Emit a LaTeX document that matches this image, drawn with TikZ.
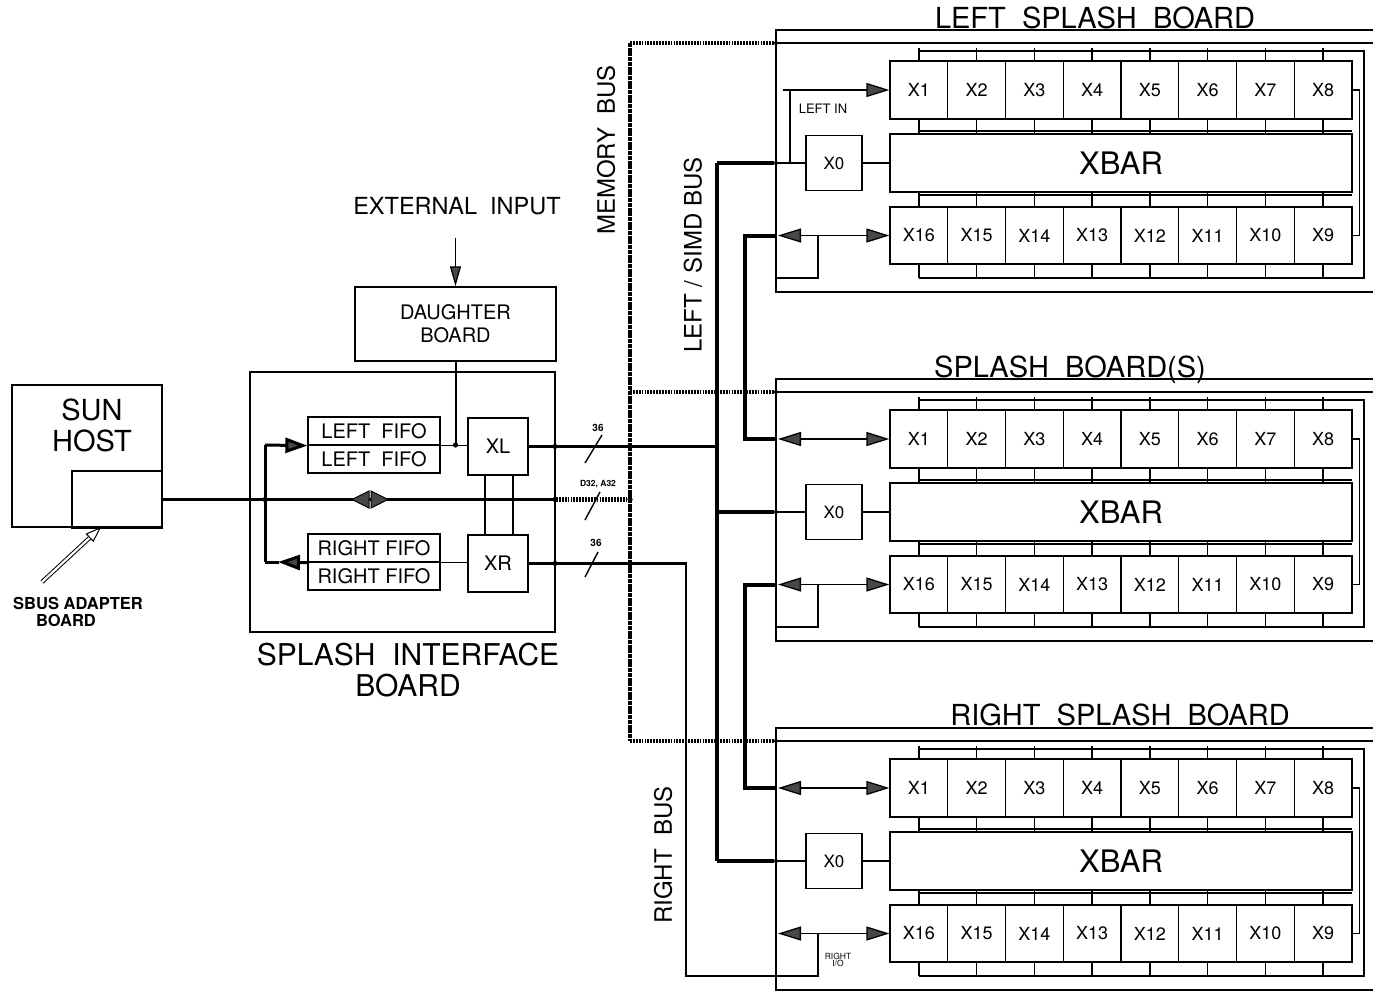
\documentclass[tikz,border=0pt]{standalone}
\usepackage{fontspec}
\setmainfont{TeX Gyre Heros}
\usetikzlibrary{arrows.meta,calc}
\newcommand\fs[1]{\fontsize{#1}{#1}\selectfont}
\tikzset{
  ln/.style={line width=1.3pt},
  frame/.style={line width=1.6pt},
  box/.style={draw, line width=1.4pt, inner sep=0pt},
  chip/.style={draw, line width=1.3pt, inner sep=0pt, minimum width=57.75pt, font=\fs{18}},
  fifo/.style={draw, line width=1.3pt, inner sep=0pt, minimum width=132pt, minimum height=28pt, font=\fs{20}},
  bus/.style={line width=4pt},
  membush/.style={line width=4.5pt, dash pattern=on 1.8pt off 1.1pt},
  membusv/.style={line width=3.5pt, dash pattern=on 4pt off 0.7pt},
  >={Triangle[length=23pt,width=14pt,fill=black!72]},
  dot/.style={circle, fill, inner sep=0pt, minimum size=5pt},
  title/.style={font=\fs{29}, anchor=base},
  vlabel/.style={font=\fs{24}, rotate=90},
}
% #1 = top y of board frame, #2 = name prefix
\newcommand\sboard[2]{%
  \draw[frame] (1380,#1) -- (776,#1) -- (776,#1+262) -- (1380,#1+262);
  \draw[ln] (776,#1+13) -- (1380,#1+13);
  \node[chip, minimum width=462pt, minimum height=58pt, font=\fs{31}] (#2xbar) at (1121,#1+133) {XBAR};
  \node[chip, minimum width=56pt, minimum height=55pt, font=\fs{17}] (#2x0) at (834,#1+133) {X0};
  \foreach \i in {1,...,8}{%
    \pgfmathsetmacro\cx{890+(\i-0.5)*57.75}%
    \pgfmathtruncatemacro\j{17-\i}%
    \node[chip, minimum height=58pt] (#2x\i) at (\cx,#1+60) {X\i};
    \node[chip, minimum height=57pt] (#2x\j) at (\cx,#1+205.5) {X\j};
    \draw[ln] (\cx,#1+18) -- (#2x\i.north);
    \draw[ln] (#2x\i.south) -- (\cx,#1+104);
    \draw[ln] (\cx,#1+162) -- (#2x\j.north);
    \draw[ln] (#2x\j.south) -- (\cx,#1+248);
  }
  \draw[ln] (918.9,#1+21) -- (1364,#1+21) -- (1364,#1+248) -- (918.9,#1+248);
  \draw[ln] (918.9,#1+101) -- (1352,#1+101);
  \draw[ln] (918.9,#1+165) -- (1352,#1+165);
  \draw[ln] (#2x8.east) -- ++(7,0) |- (#2x9.east);
  \draw[ln] (#2x0.east) -- (#2xbar.west);
  \draw[ln] (776,#1+133) -- (#2x0.west);
  \draw[ln,<->] (778,#1+205.5) -- (#2x16.west);
  \draw[ln] (818,#1+205.5) -- (818,#1+248) -- (776,#1+248);
  \node[dot, minimum size=4pt] (#2d1) at (776,#1+13) {};
  \node[dot, minimum size=4pt] (#2d2) at (776,#1+133) {};
}
\begin{document}
\begin{tikzpicture}[x=1pt,y=-1pt]
\useasboundingbox (0,0) rectangle (1373,1002);

% ---------- SUN host ----------
\node[box, line width=1.8pt, minimum width=150pt, minimum height=142pt] (host) at (87,456) {};
\node[font=\fs{29}] (sun) at (92,410) {SUN};
\node[font=\fs{29}] (hostlbl) at (92,441) {HOST};
\node[box, line width=1.8pt, minimum width=90pt, minimum height=57pt] (adapter) at (117,499.5) {};
\node[font=\bfseries\fs{16.5}] (sbus1) at (78,603) {SBUS ADAPTER};
\node[font=\bfseries\fs{16.5}] (sbus2) at (66,620) {BOARD};
\coordinate (sbtail) at (42,582);
\coordinate (sbtip) at (100,528);
\draw[double, double distance=2.2pt, line width=1pt] (sbtail) -- (89.85,537.6);
\draw[line width=1pt, fill=white] (sbtip) -- (93.3,541.2) -- (86.4,534.0) -- cycle;

% ---------- interface board ----------
\node[box, line width=2pt, minimum width=305pt, minimum height=260pt] (ifb) at (402.5,502) {};
\node[box, minimum width=201pt, minimum height=74pt, align=center, font=\fontsize{20}{23}\selectfont] (daughter) at (455.5,324) {DAUGHTER\\BOARD};
\node[font=\fs{23.5}] (extin) at (457,206) {EXTERNAL\ \ INPUT};
\coordinate (extsrc) at (455.5,238);
\draw[ln, -{Triangle[length=20pt,width=11pt,fill=black!72]}] (extsrc) -- (daughter.north);

\node[fifo] (lf1) at (374,431) {LEFT\ \ FIFO};
\node[fifo] (lf2) at (374,459) {LEFT\ \ FIFO};
\node[fifo] (rf1) at (374,548) {RIGHT FIFO};
\node[fifo] (rf2) at (374,576) {RIGHT FIFO};
\node[box, line width=1.3pt, minimum width=60pt, minimum height=57pt, font=\fs{20}] (xl) at (498,446.5) {XL};
\node[box, line width=1.3pt, minimum width=60pt, minimum height=57pt, font=\fs{20}] (xr) at (498,563.5) {XR};
\draw[ln] ($(xl.south)+(-13,0)$) -- ($(xr.north)+(-13,0)$);
\draw[ln] ($(xl.south)+(15,0)$) -- ($(xr.north)+(15,0)$);
\draw[ln] (lf1.south east) -- (lf1.south east -| xl.west);
\draw[line width=2pt] (daughter.south) -- (daughter.south |- lf1.south east);
\draw[ln] (rf1.south east) -- (rf1.south east -| xr.west);

\coordinate (fb1) at (265,445);
\coordinate (fb2) at (265,562);
\draw[line width=3pt] (fb1) -- (fb2);
\draw[line width=3pt, -{Triangle[length=22pt,width=15pt,fill=black!72]}] (fb1) -- (lf1.south west);
\draw[line width=3pt, -{Triangle[length=22pt,width=15pt,fill=black!72]}] (rf1.south west) -- ($(fb2)+(13,0)$);
\draw[line width=3pt] ($(fb2)+(14,0)$) -- (fb2);

% host line (SBus)
\coordinate (hostend) at (ifb.east |- adapter.east);
\draw[line width=2.5pt] (adapter.east) -- (hostend);
\filldraw[line width=1pt, fill=black!72] (352,499.5) -- (369,491) -- (369,508) -- cycle;
\filldraw[line width=1pt, fill=black!72] (388,499.5) -- (371,491) -- (371,508) -- cycle;

\node[font=\fs{30}] (iflbl1) at (408,655) {SPLASH\ \ INTERFACE};
\node[font=\fs{30}] (iflbl2) at (408,686) {BOARD};

% ---------- splash boards ----------
\sboard{30}{A}
\sboard{379}{B}
\sboard{728}{C}

\node[title] (tA) at (1095,28) {LEFT\ \ SPLASH\ \ BOARD};
\node[title] (tB) at (1070,377) {SPLASH\ \ BOARD(S)};
\node[title] (tC) at (1120,725) {RIGHT\ \ SPLASH\ \ BOARD};

% board A: LEFT IN
\draw[ln] (790,163) -- (790,90);
\draw[ln,->] (783,90) -- (Ax1.west);
\node[font=\fs{13}] (leftin) at (823,109) {LEFT IN};
% boards B, C: X1 arrows
\draw[ln,<->] (778,439) -- (Bx1.west);
\draw[ln,<->] (778,788) -- (Cx1.west);
\node[font=\fs{8.5}, align=center, inner sep=0pt] (rio) at (838,960) {RIGHT\\[-1pt]I/O};

% ---------- memory bus ----------
\coordinate (m1) at (630,43);
\coordinate (m2) at (630,392);
\coordinate (m3) at (630,741);
\draw[membusv] (m1) -- (m3);
\draw[membush] (m1) -- (Ad1);
\draw[membush] (m2) -- (Bd1);
\draw[membush] (m3) -- (Cd1);
\draw[membush] (hostend) -- (630,499.5);
\node[vlabel] (memlbl) at (606,150) {MEMORY\ \ BUS};

% ---------- left / SIMD bus ----------
\coordinate (s0) at (717,446.5);
\coordinate (s1) at (717,163);
\coordinate (s3) at (717,861);
\draw[line width=3pt] (xl.east) -- (s0);
\draw[bus] (s1) -- (s3);
\draw[bus] (s1) -- (Ad2);
\draw[bus] (717,512) -- (Bd2);
\draw[bus] (s3) -- (Cd2);
\node[vlabel] (simdlbl) at (693,255) {LEFT / SIMD BUS};

% ---------- chain buses ----------
\draw[bus] (776,235.5) -- (745,235.5) -- (745,439) -- (776,439);
\draw[bus] (776,584.5) -- (745,584.5) -- (745,788) -- (776,788);

% ---------- right bus ----------
\draw[line width=2.8pt] (xr.east) -- (686,563.5) -- (686,976) -- (776,976);
\node[vlabel] (rblbl) at (663,855) {RIGHT\ \ BUS};

% ---------- junction dots ----------
\foreach \p in {(555,446.5),(630,446.5),(555,499.5),(630,499.5),(555,563.5),(630,563.5),(455.5,445),(265,499.5)}
  \fill \p circle[radius=2.6];

% ---------- bus width labels ----------
\node[font=\bfseries\fs{10}] (w1) at (598,428) {36};
\draw[line width=1.4pt] (585,463) -- (602,435);
\node[font=\bfseries\fs{8.5}] (w2) at (598,484) {D32, A32};
\draw[line width=1.4pt] (585,520) -- (600,492);
\node[font=\bfseries\fs{10}] (w3) at (596,543) {36};
\draw[line width=1.4pt] (585,577) -- (598,552);
\end{tikzpicture}
\end{document}
